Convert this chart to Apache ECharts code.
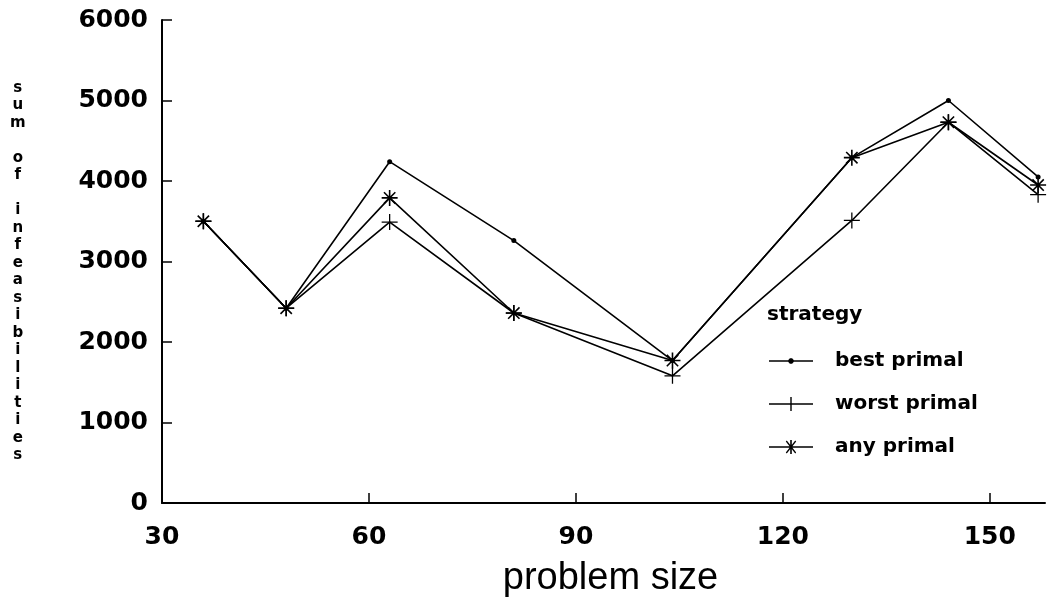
<!DOCTYPE html>
<html><head><meta charset="utf-8">
<script src="https://cdn.jsdelivr.net/npm/echarts@6/dist/echarts.min.js"></script>
<style>html,body{margin:0;padding:0;background:#fff}#c{width:1047px;height:603px}</style>
</head><body><div id="c"></div>
<script>
const problemSize = [36, 48, 63, 81, 104, 130, 144, 157];
const bestPrimal  = [3500, 2420, 4240, 3260, 1770, 4290, 5000, 4050];
const worstPrimal = [3500, 2420, 3490, 2360, 1580, 3510, 4730, 3830];
const anyPrimal   = [3500, 2420, 3790, 2360, 1770, 4290, 4730, 3950];
const seriesNames = ['best primal', 'worst primal', 'any primal'];
const xTickLabels = [30, 60, 90, 120, 150];
const xTickMarks = [60, 90, 120, 150];
const yLabelText = 'sum of infeasibilities';
const legendTitle = 'strategy';
const xAxisTitle = 'problem size';

const FONT = 'DejaVu Sans';
const PLUS = 'path://M0,9.2H20V10.8H0Z M9.2,0H10.8V20H9.2Z';
const STAR = 'path://M0,9H20V11H0Z M9,0H11V20H9Z M2.2,3.6L3.6,2.2L17.8,16.4L16.4,17.8Z M16.4,2.2L17.8,3.6L3.6,17.8L2.2,16.4Z';
// legend icons: line + marker within a 44 x 14 box
const ICON_BEST = 'path://M0,0L0.01,0L0,0.01Z M0,14L0.01,14L0,13.99Z M0,6.3H44V7.7H0Z M20.9,4.3H23.1L24.7,5.9V8.1L23.1,9.7H20.9L19.3,8.1V5.9Z';
const ICON_WORST = 'path://M0,6.3H44V7.7H0Z M21.3,0H22.7V14H21.3Z';
const ICON_ANY = 'path://M0,6.2H44V7.8H0Z M21.2,0H22.8V14H21.2Z M16.8,1.6L17.8,0.6L27.2,12.4L26.2,13.4Z M26.2,0.6L27.2,1.6L17.8,13.4L16.8,12.4Z';

function pairs(ys) { return problemSize.map((x, i) => [x, ys[i]]); }

const chart = echarts.init(document.getElementById('c'), null, {renderer: 'canvas'});
const lineStyle = {color: '#000', width: 1.6};
chart.setOption({
  animation: false,
  backgroundColor: '#fff',
  grid: {left: 162, right: 2, top: 20, bottom: 97},
  title: {
    text: legendTitle, left: 767, top: 305, padding: 0,
    textStyle: {fontFamily: FONT, fontSize: 20, fontWeight: 'bold', color: '#000'}
  },
  legend: {
    data: [
      {name: seriesNames[0], icon: ICON_BEST},
      {name: seriesNames[1], icon: ICON_WORST},
      {name: seriesNames[2], icon: ICON_ANY}
    ],
    orient: 'vertical', left: 769, top: 351, padding: 0,
    itemWidth: 44, itemHeight: 14, itemGap: 23,
    itemStyle: {color: '#000', borderWidth: 0},
    textStyle: {fontFamily: FONT, fontSize: 20, fontWeight: 'bold', color: '#000', padding: [0, 0, 0, 17]}
  },
  graphic: [{
    type: 'text', left: 10, top: 79,
    style: {
      text: yLabelText.split('').join('\n'),
      font: 'bold 15px "' + FONT + '"', fill: '#000',
      textAlign: 'center', lineHeight: 17.5
    }
  }],
  xAxis: {
    type: 'value', min: 30, max: 158, interval: 30,
    name: xAxisTitle, nameLocation: 'middle', nameGap: 57,
    nameTextStyle: {fontFamily: 'Liberation Sans', fontSize: 38, color: '#000', padding: [0, 0, 0, 14]},
    axisLine: {show: true, onZero: false, lineStyle: {color: '#000', width: 2}},
    axisTick: {show: true, inside: true, length: 10, customValues: xTickMarks, lineStyle: {color: '#000', width: 1.5}},
    axisLabel: {customValues: xTickLabels, margin: 22, fontFamily: FONT, fontSize: 25, fontWeight: 'bold', color: '#000'},
    splitLine: {show: false}
  },
  yAxis: {
    type: 'value', min: 0, max: 6000, interval: 1000,
    axisLine: {show: true, onZero: false, lineStyle: {color: '#000', width: 2}},
    axisTick: {show: true, inside: true, length: 10, lineStyle: {color: '#000', width: 1.5}},
    axisLabel: {margin: 14, fontFamily: FONT, fontSize: 25, fontWeight: 'bold', color: '#000',
                formatter: v => String(v)},
    splitLine: {show: false}
  },
  series: [
    {name: seriesNames[0], type: 'line', data: pairs(bestPrimal), symbol: 'circle', symbolSize: 5,
     itemStyle: {color: '#000'}, lineStyle: lineStyle},
    {name: seriesNames[1], type: 'line', data: pairs(worstPrimal), symbol: PLUS, symbolSize: 16,
     itemStyle: {color: '#000'}, lineStyle: lineStyle},
    {name: seriesNames[2], type: 'line', data: pairs(anyPrimal), symbol: STAR, symbolSize: 16,
     itemStyle: {color: '#000'}, lineStyle: lineStyle}
  ]
});
</script></body></html>
